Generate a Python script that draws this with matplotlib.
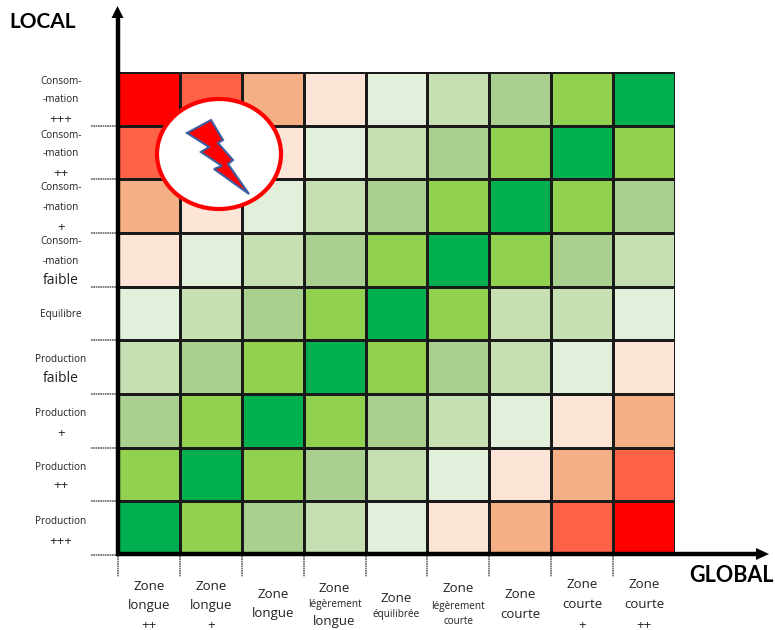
import numpy as np
import matplotlib.pyplot as plt
from matplotlib.colors import ListedColormap
from matplotlib.patches import Ellipse, Polygon

plt.rcParams['font.family'] = ['Open Sans', 'DejaVu Sans']

# colour level of each cell, top row first (0 = dark green, 8 = red)
levels = [
    [8, 7, 6, 5, 4, 3, 2, 1, 0],
    [7, 6, 5, 4, 3, 2, 1, 0, 1],
    [6, 5, 4, 3, 2, 1, 0, 1, 2],
    [5, 4, 3, 2, 1, 0, 1, 2, 3],
    [4, 3, 2, 1, 0, 1, 3, 3, 4],
    [3, 2, 1, 0, 1, 2, 3, 4, 5],
    [2, 1, 0, 1, 2, 3, 4, 5, 6],
    [1, 0, 1, 2, 3, 4, 5, 6, 7],
    [0, 1, 2, 3, 4, 5, 6, 7, 8],
]
colors = ['#00b050', '#92d050', '#a9d08e', '#c6e0b4', '#e2efda',
          '#fce4d6', '#f4b084', '#ff6347', '#ff0000']

# (text, y in px, font size)
row_labels = [
    [('Consom-', 80, 7.2), ('-mation', 99, 7.2), ('+++', 118, 9.5)],
    [('Consom-', 134, 7.2), ('-mation', 153, 7.2), ('++', 172, 9.5)],
    [('Consom-', 187, 7.2), ('-mation', 207, 7.2), ('+', 226, 9.5)],
    [('Consom-', 241, 7.2), ('-mation', 260, 7.2), ('faible', 279, 10)],
    [('Equilibre', 314, 7.2)],
    [('Production', 359, 7.2), ('faible', 378, 10)],
    [('Production', 412, 7.2), ('+', 433, 9.5)],
    [('Production', 466, 7.2), ('++', 485, 9.5)],
    [('Production', 520, 7.2), ('+++', 540, 9.5)],
]
col_labels = [
    [('Zone', 585, 9.5), ('longue', 604, 9.5), ('++', 624, 9.5)],
    [('Zone', 585, 9.5), ('longue', 604, 9.5), ('+', 624, 9.5)],
    [('Zone', 593, 9.5), ('longue', 613, 9.5)],
    [('Zone', 587, 9.5), ('légèrement', 603, 7.2), ('longue', 621, 9.5)],
    [('Zone', 597, 9.5), ('équilibrée', 613, 7.2)],
    [('Zone', 588, 9.5), ('légèrement', 606, 7.2), ('courte', 620, 7.2)],
    [('Zone', 594, 9.5), ('courte', 613, 9.5)],
    [('Zone', 584, 9.5), ('courte', 604, 9.5), ('+', 624, 9.5)],
    [('Zone', 584, 9.5), ('courte', 604, 9.5), ('++', 624, 9.5)],
]
bolt = [(187, 133), (211, 120), (223, 140), (218, 143), (233, 160), (228, 164),
        (249, 194), (214, 169), (222, 166), (201, 152), (209, 147)]

W, H = 775, 630
fig = plt.figure(figsize=(W / 100, H / 100), dpi=100)

# heatmap
x0, x1, y0, y1 = 118, 675, 72, 555
ax = fig.add_axes([x0 / W, 1 - y1 / H, (x1 - x0) / W, (y1 - y0) / H])
ax.pcolormesh(np.array(levels), cmap=ListedColormap(colors), vmin=-0.5, vmax=8.5,
              edgecolors='#1a1a1a', linewidth=0.8)
ax.set_ylim(9, 0)
ax.axis('off')

# overlay in pixel coordinates for axes arrows, ticks, labels
ov = fig.add_axes([0, 0, 1, 1], facecolor='none')
ov.set_xlim(0, W)
ov.set_ylim(H, 0)
ov.axis('off')

cw = (x1 - x0) / 9
rh = (y1 - y0) / 9
for i in range(9):
    y = y0 + rh * (i + 1)
    ov.plot([91, 117], [y, y], color='#666666', lw=1.2, ls=(0, (1, 0.4)))
    x = x0 + cw * i
    ov.plot([x, x], [556, 577], color='#666666', lw=1.2, ls=(0, (1, 0.4)))
    for txt, ty, fs in row_labels[i]:
        ov.text(61, ty + 1, txt, ha='center', va='center', fontsize=fs, color='#222222')
    for txt, ty, fs in col_labels[i]:
        ov.text(x + cw / 2, ty + 1, txt, ha='center', va='center', fontsize=fs, color='#222222')

# axes: shaft plus a small triangular head
ov.plot([117.5, 117.5], [556, 16], color='black', lw=3.2, solid_capstyle='butt')
ov.plot([115.5, 758], [554, 554], color='black', lw=3.2, solid_capstyle='butt')
ov.add_patch(Polygon([(111.5, 18), (123.5, 18), (117.5, 6)], closed=True, fc='black', ec='none'))
ov.add_patch(Polygon([(756, 548), (756, 560), (769, 554)], closed=True, fc='black', ec='none'))

ov.text(43, 22, 'LOCAL', ha='center', va='center', fontsize=15, fontweight='bold',
        family=['Lato', 'DejaVu Sans'], color='black')
ov.text(732, 576, 'GLOBAL', ha='center', va='center', fontsize=15.5, fontweight='bold',
        family=['Lato', 'DejaVu Sans'], color='black')

ov.add_patch(Ellipse((219, 154), 124, 110, fc='white', ec='#ff0000', lw=3.0, zorder=5))
ov.add_patch(Polygon(bolt, closed=True, fc='#ff0000', ec='#3d5f9f', lw=1.5, zorder=6))

fig.savefig('out.png', dpi=100)
